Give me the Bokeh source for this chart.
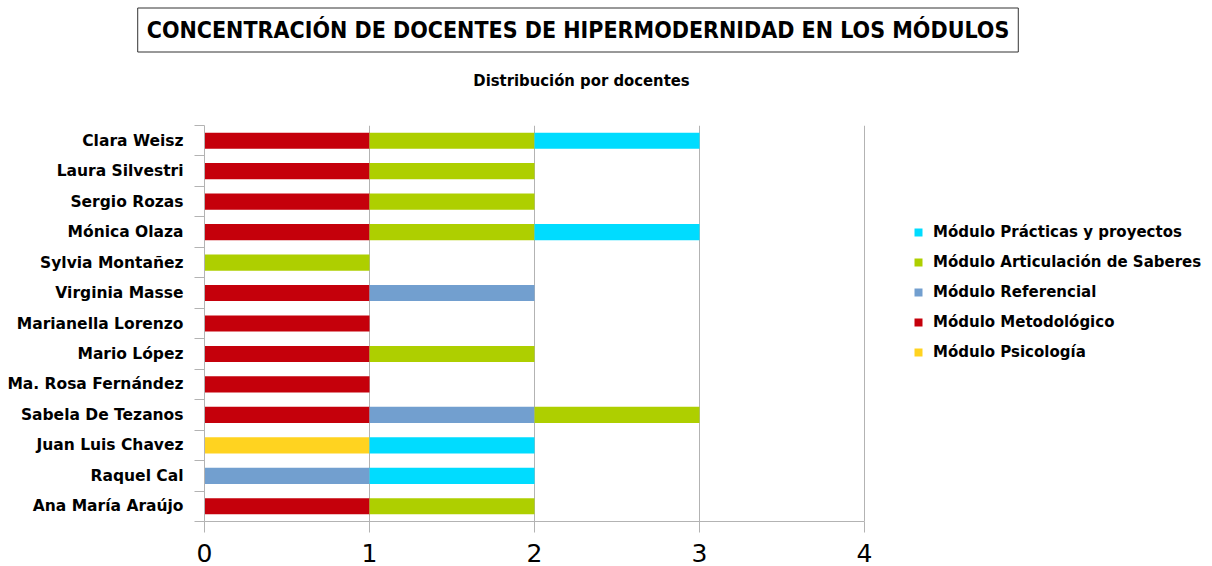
from bokeh.plotting import figure
from bokeh.models import (ColumnDataSource, Range1d, FixedTicker, Legend, LegendItem, Label)
from bokeh.embed import file_html
from bokeh.resources import INLINE

docentes = ["Ana María Araújo", "Raquel Cal", "Juan Luis Chavez", "Sabela De Tezanos",
            "Ma. Rosa Fernández", "Mario López", "Marianella Lorenzo", "Virginia Masse",
            "Sylvia Montañez", "Mónica Olaza", "Sergio Rozas", "Laura Silvestri", "Clara Weisz"]
psicologia   = [0, 0, 1, 0, 0, 0, 0, 0, 0, 0, 0, 0, 0]
metodologico = [1, 0, 0, 1, 1, 1, 1, 1, 0, 1, 1, 1, 1]
referencial  = [0, 1, 0, 1, 0, 0, 0, 1, 0, 0, 0, 0, 0]
articulacion = [1, 0, 0, 1, 0, 1, 0, 0, 1, 1, 1, 1, 1]
practicas    = [0, 1, 1, 0, 0, 0, 0, 0, 0, 1, 0, 0, 1]

series_names = ["Módulo Psicología", "Módulo Metodológico", "Módulo Referencial",
                "Módulo Articulación de Saberes", "Módulo Prácticas y proyectos"]
series_keys = ["psicologia", "metodologico", "referencial", "articulacion", "practicas"]
colors = ["#ffd320", "#c5000b", "#729fcf", "#aecf00", "#00dcff"]
x_ticks = [0, 1, 2, 3, 4]

title_text = "CONCENTRACIÓN DE DOCENTES DE HIPERMODERNIDAD EN LOS MÓDULOS"
subtitle_text = "Distribución por docentes"

W = 1212
TOP_H = 125
MAIN_H = 566 - TOP_H
LEFT = 204
PX_PER_UNIT = 165.0

# ---- header figure (titles) ----
head = figure(width=W, height=TOP_H, output_backend="svg", toolbar_location=None,
              x_range=Range1d(0, W), y_range=Range1d(TOP_H, 0),
              x_axis_location=None, y_axis_location=None, min_border=0)
head.outline_line_color = None
head.grid.visible = False
title = Label(x=577.5, y=29.5, text=title_text, text_align="center", text_baseline="middle",
              text_font="DejaVu Sans Condensed", text_font_style="bold", text_font_size="23px",
              text_color="black", border_line_color="#333333", border_line_width=1,
              background_fill_color="white", padding=9)
head.add_layout(title)
subtitle = Label(x=581, y=80, text=subtitle_text, text_align="center", text_baseline="middle",
                 text_font="DejaVu Sans Condensed", text_font_style="bold", text_font_size="16.5px",
                 text_color="black")
head.add_layout(subtitle)

# ---- main chart ----
n = len(docentes)
ypos = [i + 0.5 for i in range(n)]
source = ColumnDataSource(dict(y=ypos, psicologia=psicologia, metodologico=metodologico,
                               referencial=referencial, articulacion=articulacion,
                               practicas=practicas))

x_end = (W - LEFT) / PX_PER_UNIT  # frame extends to the right edge; axis bounded to 0..4
p = figure(width=W, height=MAIN_H, output_backend="svg", toolbar_location=None,
           x_range=Range1d(0, x_end), y_range=Range1d(0, n),
           min_border_left=LEFT, min_border_right=0, min_border_top=0, min_border_bottom=45)
p.outline_line_color = None

renderers = p.hbar_stack(series_keys, y="y", height=0.53, color=colors, source=source,
                         line_color=None)

grey = "#b3b3b3"
xa = p.xaxis[0]
xa.ticker = FixedTicker(ticks=x_ticks)
xa.bounds = (x_ticks[0], x_ticks[-1])
xa.axis_line_color = grey
xa.major_tick_line_color = grey
xa.major_tick_out = 11
xa.major_tick_in = 0
xa.minor_tick_line_color = None
xa.major_label_text_font = "DejaVu Sans"
xa.major_label_text_font_size = "25px"
xa.major_label_text_color = "black"
xa.major_label_text_line_height = 0.6
xa.major_label_standoff = 11

ya = p.yaxis[0]
ya.ticker = FixedTicker(ticks=ypos, minor_ticks=list(range(n + 1)))
ya.major_label_overrides = {y: name for y, name in zip(ypos, docentes)}
ya.axis_line_color = grey
ya.major_tick_line_color = None
ya.major_tick_out = 0
ya.major_tick_in = 0
ya.minor_tick_line_color = grey
ya.minor_tick_out = 10
ya.minor_tick_in = 0
ya.major_label_standoff = 11
ya.major_label_text_font = "DejaVu Sans"
ya.major_label_text_font_style = "bold"
ya.major_label_text_font_size = "15.5px"
ya.major_label_text_color = "black"

p.xgrid.grid_line_color = grey
p.xgrid.ticker = FixedTicker(ticks=x_ticks)
p.ygrid.grid_line_color = None

items = [LegendItem(label=series_names[i], renderers=[renderers[i]]) for i in reversed(range(5))]
legend = Legend(items=items, location=(709, 159), padding=0, margin=0, spacing=10,
                glyph_width=10, glyph_height=10, label_height=20, label_standoff=10,
                border_line_color=None, background_fill_alpha=0,
                label_text_font="DejaVu Sans", label_text_font_style="bold",
                label_text_font_size="15px", label_text_color="black")
p.add_layout(legend, "center")

open("out.html", "w").write(file_html([head, p], INLINE))
